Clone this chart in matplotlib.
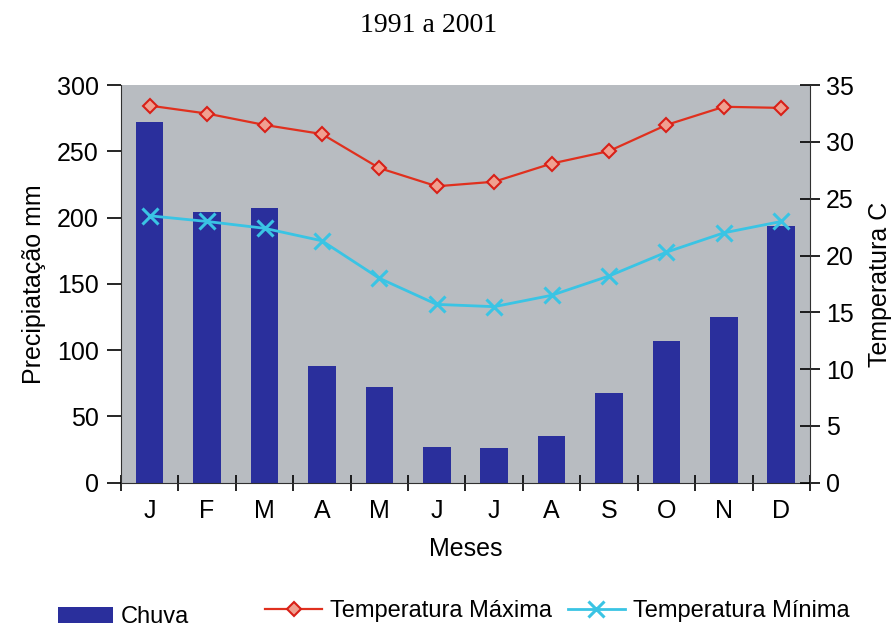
import numpy as np
import matplotlib.pyplot as plt

plt.rcParams['font.family'] = ['Liberation Sans', 'DejaVu Sans']

meses = ['J', 'F', 'M', 'A', 'M', 'J', 'J', 'A', 'S', 'O', 'N', 'D']
chuva = [272, 204, 207, 88, 72, 27, 26, 35, 68, 107, 125, 194]
temp_max = [33.2, 32.5, 31.5, 30.7, 27.7, 26.1, 26.5, 28.1, 29.2, 31.5, 33.1, 33.0]
temp_min = [23.5, 23.0, 22.4, 21.3, 18.0, 15.7, 15.5, 16.5, 18.2, 20.3, 22.0, 23.0]

x = np.arange(len(meses))

fig = plt.figure(figsize=(8.96, 6.31), dpi=100)
ax = fig.add_axes([0.135, 0.235, 0.769, 0.63])
ax.set_facecolor('#b8bcc1')

bars = ax.bar(x, chuva, width=0.48, color='#2a2f9c', label='Chuva', zorder=2)
ax.set_xlim(-0.5, len(meses) - 0.5)
ax.set_ylim(0, 300)
ax.set_yticks(range(0, 301, 50))
ax.set_xticks(x)
ax.set_xticklabels(meses)
ax.set_xticks(np.arange(-0.5, len(meses), 1), minor=True)
ax.tick_params(axis='x', which='major', length=0, pad=12, labelsize=18)
ax.tick_params(axis='x', which='minor', direction='inout', length=12, width=1.2)
ax.tick_params(axis='y', direction='out', length=10, width=1.2, pad=6, labelsize=18)
ax.set_ylabel('Precipiatação mm', fontsize=18, labelpad=8)
ax.set_xlabel('Meses', fontsize=18, labelpad=10)
ax.spines['top'].set_visible(False)
ax.spines['right'].set_visible(False)
ax.spines['left'].set_color('#303030')
ax.spines['bottom'].set_color('#303030')

ax2 = ax.twinx()
l1, = ax2.plot(x, temp_max, color='#e0301e', lw=1.6, marker='D', ms=7,
               mfc='#f0a090', mec='#d82018', mew=1.5, label='Temperatura Máxima', zorder=3)
l2, = ax2.plot(x, temp_min, color='#3ac4e4', lw=2.0, marker='x', ms=11,
               mew=2.2, label='Temperatura Mínima', zorder=3)
ax2.set_ylim(0, 35)
ax2.set_yticks(range(0, 36, 5))
ax2.tick_params(axis='y', direction='inout', length=15, width=1.2, pad=4, labelsize=18)
ax2.set_ylabel('Temperatura C', fontsize=18, labelpad=10)
for s in ['top', 'left', 'bottom']:
    ax2.spines[s].set_visible(False)
ax2.spines['right'].set_color('#303030')

fig.text(0.478, 0.96, '1991 a 2001', ha='center', va='center',
         fontsize=20, family=['Liberation Serif', 'DejaVu Serif'])

# legend entries placed one by one along the bottom
leg_kw = dict(frameon=False, fontsize=17, handletextpad=0.35, borderpad=0,
              borderaxespad=0, loc='center left')
fig.legend(handles=[bars], bbox_to_anchor=(0.065, 0.022), handlelength=2.3, **leg_kw)
fig.legend(handles=[l1], bbox_to_anchor=(0.296, 0.032), handlelength=2.4, **leg_kw)
fig.legend(handles=[l2], bbox_to_anchor=(0.634, 0.032), handlelength=2.4, **leg_kw)

fig.savefig('out.png', dpi=100)
